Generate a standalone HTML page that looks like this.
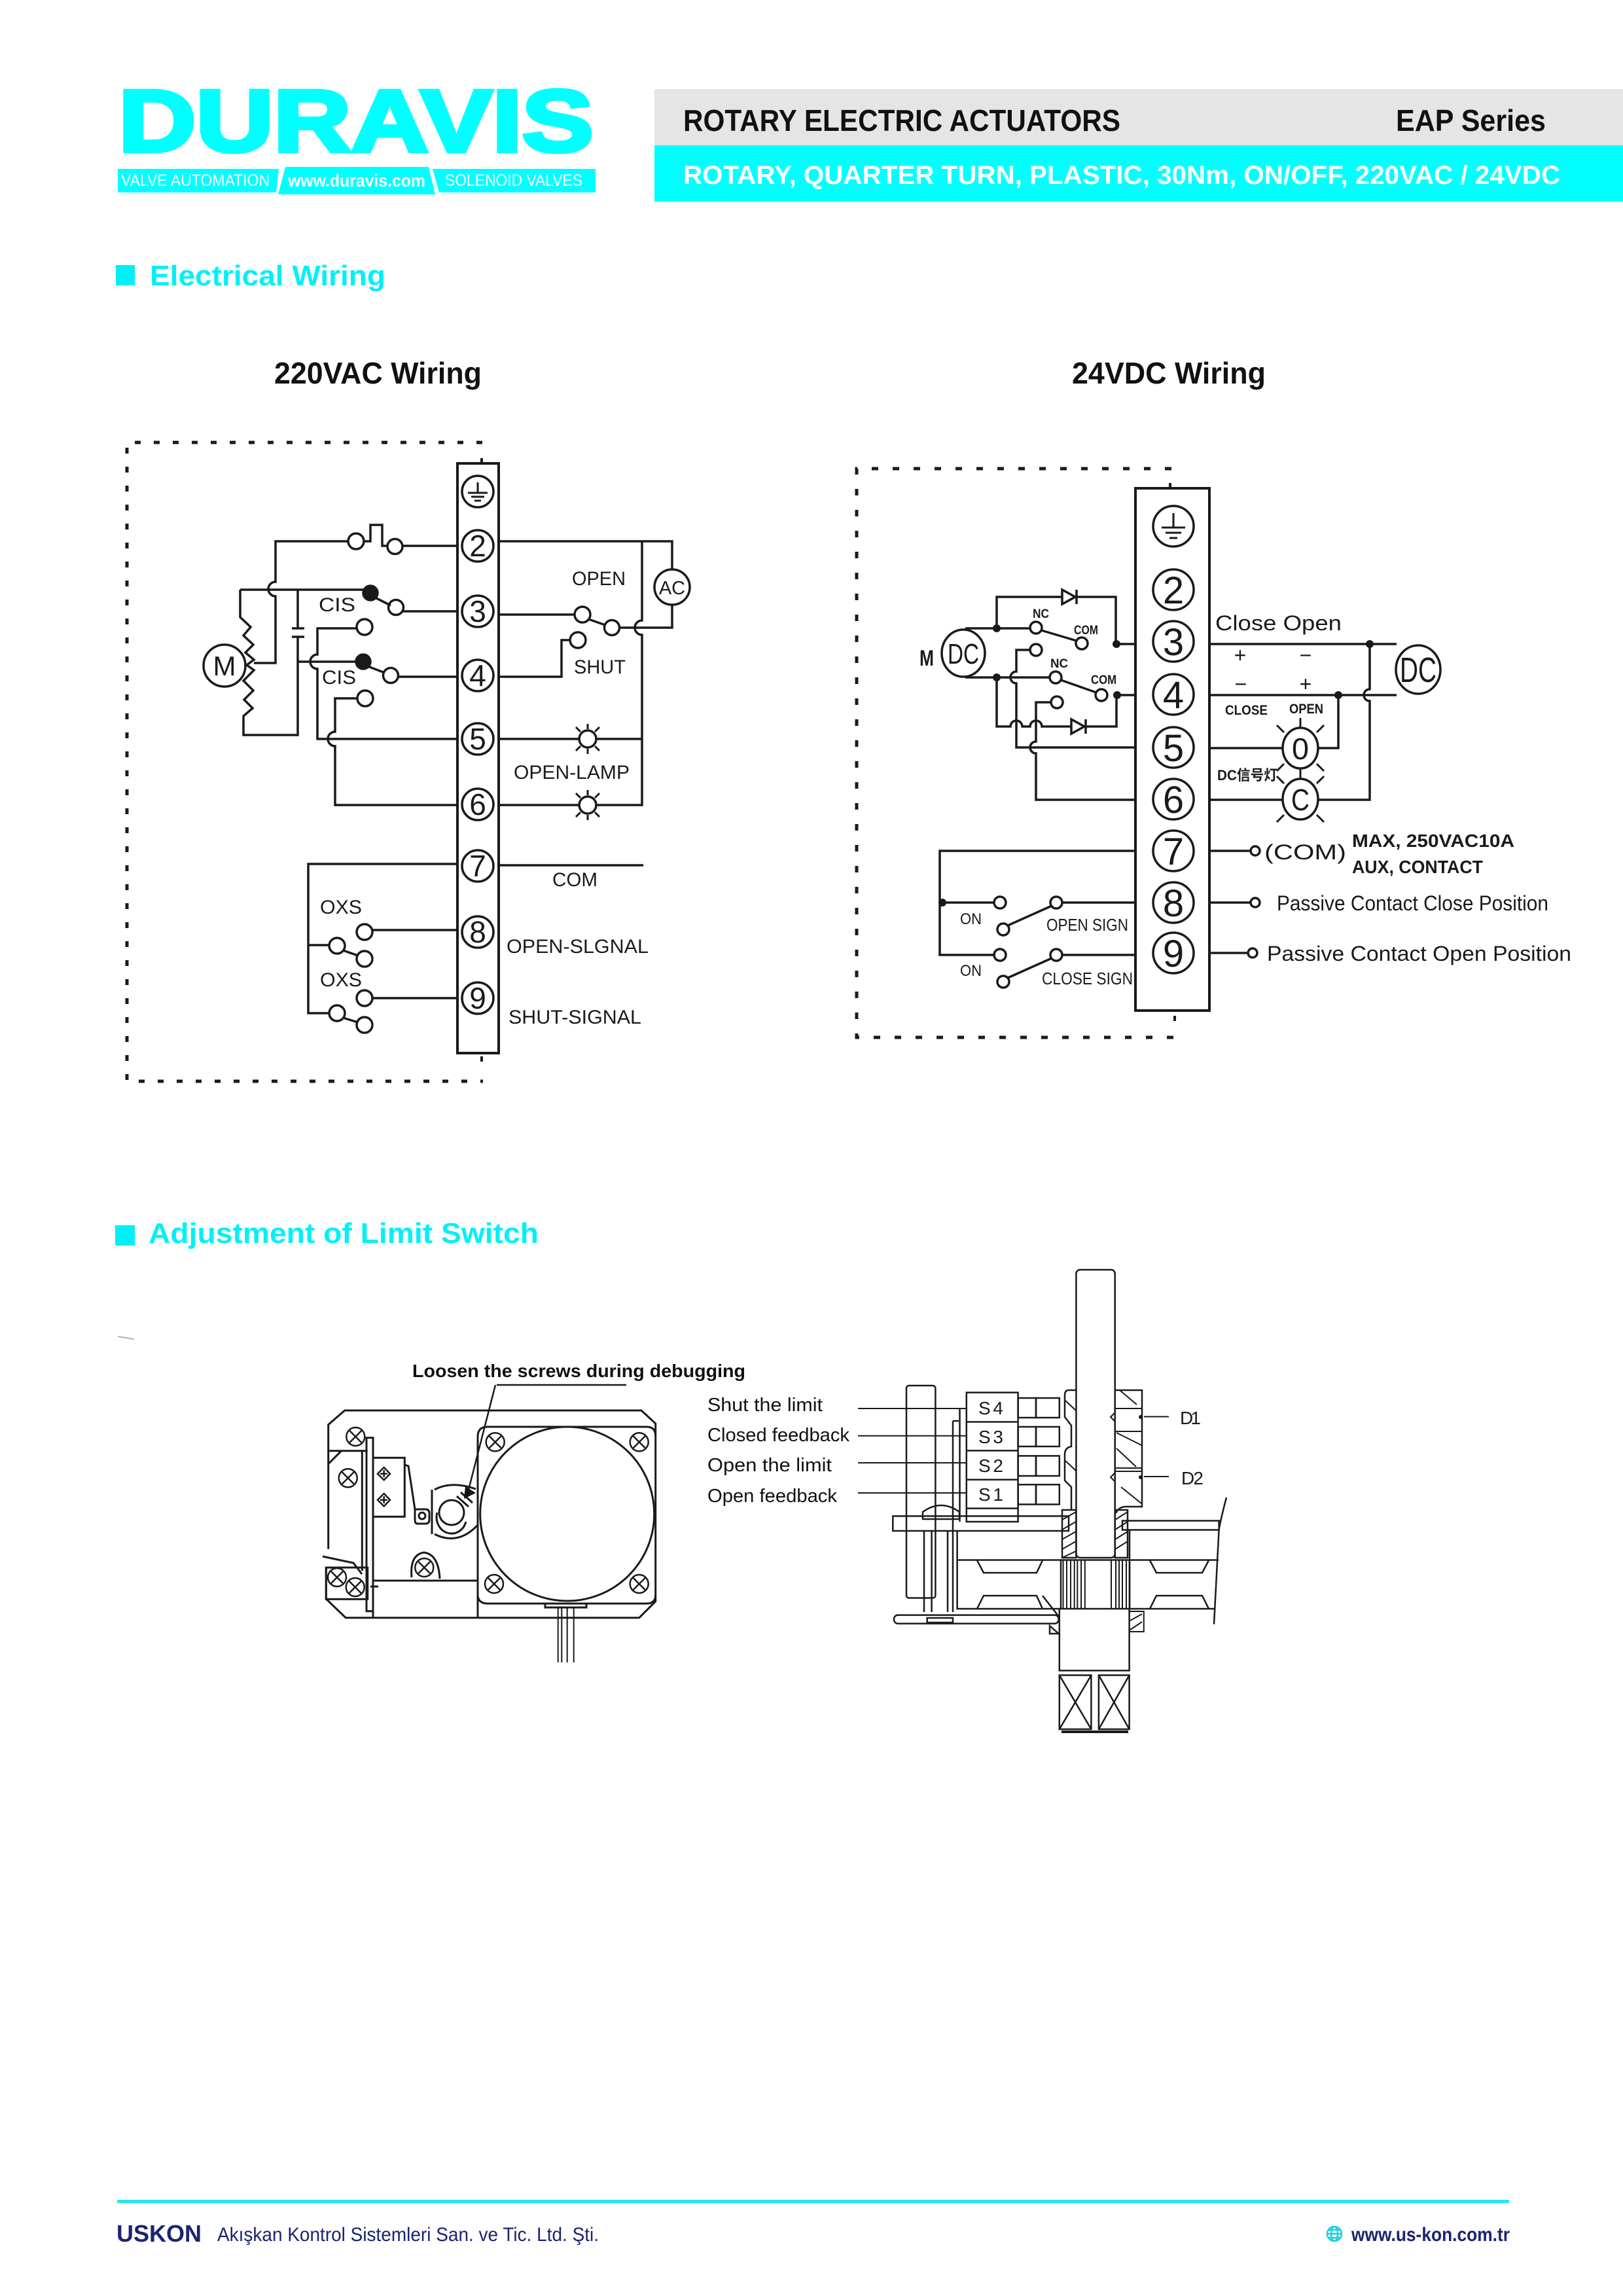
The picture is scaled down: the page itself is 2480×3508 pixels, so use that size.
<!DOCTYPE html>
<html><head><meta charset="utf-8"><title>EAP Series - Electrical Wiring</title>
<style>
html,body{margin:0;padding:0;background:#fff;width:2480px;height:3508px;overflow:hidden;}
svg{display:block;}
text{font-family:"Liberation Sans","Noto Sans CJK SC",sans-serif;}
</style></head><body>
<svg xmlns="http://www.w3.org/2000/svg" width="2480" height="3508" viewBox="0 0 2480 3508">
<rect width="2480" height="3508" fill="#fff"/>

<!-- ===== HEADER ===== -->
<rect x="1000" y="136" width="1480" height="86" fill="#e5e5e5"/>
<rect x="1000" y="222" width="1480" height="86" fill="#00ffff"/>
<text x="1044" y="200" font-size="46" font-weight="bold" fill="#111" textLength="668" lengthAdjust="spacingAndGlyphs">ROTARY ELECTRIC ACTUATORS</text>
<text x="2133" y="200" font-size="46" font-weight="bold" fill="#111" textLength="229" lengthAdjust="spacingAndGlyphs">EAP Series</text>
<text x="1044" y="281" font-size="40" font-weight="bold" fill="#fff" textLength="1340" lengthAdjust="spacingAndGlyphs">ROTARY, QUARTER TURN, PLASTIC, 30Nm, ON/OFF, 220VAC / 24VDC</text>

<!-- logo -->
<text x="181" y="231" font-size="134" font-weight="bold" fill="#00ffff" stroke="#00ffff" stroke-width="6" textLength="726" lengthAdjust="spacingAndGlyphs">DURAVIS</text>
<polygon points="180,258 426,258 422,294 180,294" fill="#00ffff"/>
<polygon points="436,255 655,255 665,297 425,297" fill="#00ffff"/>
<polygon points="661,258 910,258 910,294 671,294" fill="#00ffff"/>
<text x="185" y="284" font-size="25" fill="#fff" textLength="227" lengthAdjust="spacingAndGlyphs">VALVE AUTOMATION</text>
<text x="440" y="285" font-size="27" font-weight="bold" fill="#fff" textLength="210" lengthAdjust="spacingAndGlyphs">www.duravis.com</text>
<text x="680" y="284" font-size="25" fill="#fff" textLength="210" lengthAdjust="spacingAndGlyphs">SOLENOID VALVES</text>

<!-- section 1 -->
<rect x="177" y="405" width="29" height="31" fill="#00f0f8"/>
<text x="229" y="436" font-size="44" font-weight="bold" fill="#00f0f8" textLength="360" lengthAdjust="spacingAndGlyphs">Electrical Wiring</text>
<text x="419" y="586" font-size="46" font-weight="bold" fill="#111" textLength="317" lengthAdjust="spacingAndGlyphs">220VAC Wiring</text>
<text x="1638" y="586" font-size="46" font-weight="bold" fill="#111" textLength="296" lengthAdjust="spacingAndGlyphs">24VDC Wiring</text>

<!-- ===== 220VAC DIAGRAM ===== -->
<g fill="none" stroke="#1a1a1a" stroke-width="3.5">
  <path d="M737,676 H194 V1652 H738" stroke-width="5" stroke-dasharray="9 20"/>
  <path d="M736,700 V707 M736,1614 V1622" stroke-width="4"/>
  <rect x="699" y="708" width="63" height="901" stroke-width="4"/>
  <circle cx="730" cy="751" r="24"/>
  <circle cx="730" cy="834" r="24"/>
  <circle cx="730" cy="934" r="24"/>
  <circle cx="730" cy="1032" r="24"/>
  <circle cx="730" cy="1129" r="24"/>
  <circle cx="730" cy="1229" r="24"/>
  <circle cx="730" cy="1323" r="24"/>
  <circle cx="730" cy="1424" r="24"/>
  <circle cx="730" cy="1525" r="24"/>
  <path d="M730,737 V753 M715,753 H745 M720,759 H740 M725,765 H735" stroke-width="3"/>

  <!-- left side -->
  <path d="M699,834 H615"/>
  <circle cx="603.5" cy="835" r="11.5"/>
  <path d="M556,827 H566 V802 H584 V834 H592"/>
  <circle cx="544" cy="827" r="12"/>
  <path d="M532,827 H421 V889 A11,11 0 0 0 421,911 V1013 H388"/>
  <circle cx="343" cy="1017" r="32"/>
  <path d="M367,901 V943 L383,958 L372,971 L387,985 L375,997 L388,1008 L377,1016 L388,1024 L372,1040 L387,1055 L373,1069 L386,1082 L372,1094 V1123 H455 V973"/>
  <path d="M367,901 H556"/>
  <path d="M455,901 V960 M446,960 H465 M446,973 H465"/>
  <path d="M455,1011 H545"/>
  <circle cx="566" cy="906" r="11" fill="#1a1a1a"/>
  <path d="M573,913 L597,925"/>
  <circle cx="605" cy="928" r="11.5"/>
  <path d="M616,934 H699"/>
  <circle cx="557" cy="958" r="12"/>
  <path d="M545,960 H485 V1000 A11,11 0 0 0 485,1022 V1129 H699"/>
  <circle cx="555" cy="1011" r="11" fill="#1a1a1a"/>
  <path d="M562,1018 L588,1028"/>
  <circle cx="597" cy="1032" r="11.5"/>
  <path d="M608,1034 H699"/>
  <circle cx="558" cy="1067" r="12"/>
  <path d="M546,1067 H512 V1118 A11,11 0 0 0 512,1140 V1230 H699"/>

  <!-- right side -->
  <path d="M762,827 H1027 V870"/>
  <circle cx="1027" cy="897" r="27"/>
  <path d="M1027,924 V959 H946"/>
  <path d="M981,827 V948 A11,11 0 0 0 981,970 V1230 H911"/>
  <path d="M762,939 H878"/>
  <circle cx="890" cy="939" r="12"/>
  <path d="M899,946 L925,955"/>
  <circle cx="935" cy="959" r="11.5"/>
  <circle cx="883" cy="978" r="12"/>
  <path d="M871,978 H858 V1034 H762"/>
  <path d="M762,1129 H885 M911,1129 H981"/>
  <circle cx="898" cy="1129" r="13"/>
  <path d="M898,1114 V1106 M898,1144 V1152 M887,1118 L880,1111 M909,1118 L916,1111 M887,1140 L880,1147 M909,1140 L916,1147" stroke-width="3"/>
  <path d="M762,1230 H885"/>
  <circle cx="898" cy="1230" r="13"/>
  <path d="M898,1215 V1207 M898,1245 V1253 M887,1219 L880,1212 M909,1219 L916,1212 M887,1241 L880,1248 M909,1241 L916,1248" stroke-width="3"/>
  <path d="M762,1322 H983"/>

  <!-- bottom left -->
  <path d="M699,1320 H471 V1548 H503 M471,1444 H503"/>
  <circle cx="515" cy="1445" r="12"/>
  <circle cx="557" cy="1465" r="12"/>
  <circle cx="557" cy="1424" r="12"/>
  <path d="M524,1452 L547,1460"/>
  <path d="M569,1421 H699"/>
  <circle cx="515" cy="1548" r="12"/>
  <circle cx="557" cy="1566" r="12"/>
  <circle cx="557" cy="1525" r="12"/>
  <path d="M524,1555 L547,1562"/>
  <path d="M569,1525 H699"/>
</g>
<g fill="#1a1a1a" stroke="none" font-size="46" text-anchor="middle">
  <text x="730" y="850">2</text>
  <text x="730" y="950">3</text>
  <text x="730" y="1048">4</text>
  <text x="730" y="1145">5</text>
  <text x="730" y="1245">6</text>
  <text x="730" y="1339">7</text>
  <text x="730" y="1440">8</text>
  <text x="730" y="1541">9</text>
  <text x="343" y="1032" font-size="42">M</text>
  <text x="1027" y="908" font-size="29">AC</text>
</g>
<g fill="#1a1a1a" stroke="none" font-size="30">
  <text x="487" y="934" textLength="56" lengthAdjust="spacingAndGlyphs">CIS</text>
  <text x="492" y="1045" textLength="52" lengthAdjust="spacingAndGlyphs">CIS</text>
  <text x="874" y="894" textLength="82" lengthAdjust="spacingAndGlyphs">OPEN</text>
  <text x="877" y="1029" textLength="79" lengthAdjust="spacingAndGlyphs">SHUT</text>
  <text x="785" y="1190" textLength="177" lengthAdjust="spacingAndGlyphs">OPEN-LAMP</text>
  <text x="844" y="1354" textLength="69" lengthAdjust="spacingAndGlyphs">COM</text>
  <text x="774" y="1456" textLength="217" lengthAdjust="spacingAndGlyphs">OPEN-SLGNAL</text>
  <text x="777" y="1564" textLength="203" lengthAdjust="spacingAndGlyphs">SHUT-SIGNAL</text>
  <text x="489" y="1396" textLength="64" lengthAdjust="spacingAndGlyphs">OXS</text>
  <text x="489" y="1507" textLength="64" lengthAdjust="spacingAndGlyphs">OXS</text>
</g>

<!-- ===== 24VDC DIAGRAM ===== -->
<g fill="none" stroke="#1a1a1a" stroke-width="3.5">
  <path d="M1790,716 H1309 V1585 H1795" stroke-width="5" stroke-dasharray="10 22"/>
  <path d="M1788,738 V745 M1795,1552 V1560" stroke-width="4"/>
  <rect x="1735" y="746" width="113" height="798" stroke-width="4"/>
  <circle cx="1793" cy="804" r="31"/>
  <circle cx="1793" cy="901" r="31"/>
  <circle cx="1793" cy="980" r="31"/>
  <circle cx="1793" cy="1061" r="31"/>
  <circle cx="1793" cy="1142" r="31"/>
  <circle cx="1793" cy="1221" r="31"/>
  <circle cx="1793" cy="1300" r="31"/>
  <circle cx="1793" cy="1379" r="31"/>
  <circle cx="1793" cy="1456" r="31"/>
  <path d="M1793,784 V806 M1775,806 H1811 M1781,814 H1805 M1787,822 H1799" stroke-width="3"/>

  <!-- motor side -->
  <ellipse cx="1472" cy="998" rx="33" ry="36"/>
  <path d="M1475,960 H1574"/>
  <path d="M1523,959 V912 H1623 M1645,912 H1705 V984 H1735"/>
  <path d="M1623,901 V923 L1643,912 Z M1645,901 V923"/>
  <circle cx="1583" cy="959" r="9"/>
  <path d="M1591,963 L1645,979"/>
  <circle cx="1653" cy="983" r="9"/>
  <circle cx="1583" cy="993" r="9"/>
  <path d="M1574,993 H1553 V1026 A9,9 0 0 0 1553,1044 V1142 H1735"/>
  <path d="M1475,1035 H1604"/>
  <path d="M1523,1035 V1110 H1544 A9,9 0 0 1 1562,1110 H1574 A9,9 0 0 1 1592,1110 H1637 M1659,1110 H1706 V1062 H1735"/>
  <path d="M1637,1099 V1121 L1657,1110 Z M1659,1099 V1121"/>
  <circle cx="1613" cy="1035" r="9"/>
  <path d="M1621,1039 L1675,1058"/>
  <circle cx="1683" cy="1062" r="9"/>
  <circle cx="1615" cy="1073" r="9"/>
  <path d="M1606,1073 H1583 V1133 A9,9 0 0 0 1583,1151 V1222 H1735"/>

  <!-- right side -->
  <path d="M1848,984 H2134"/>
  <path d="M1848,1062 H2134"/>
  <ellipse cx="2167" cy="1023" rx="34" ry="37"/>
  <path d="M2093,984 V1053 A9,9 0 0 0 2093,1071 V1222 H2014"/>
  <path d="M2045,1062 V1143 H2014"/>
  <path d="M1848,1143 H1960 M1848,1222 H1960"/>
  <ellipse cx="1987" cy="1143" rx="27" ry="31"/>
  <ellipse cx="1987" cy="1221" rx="27" ry="31"/>
  <path d="M1987,1097 V1112 M1987,1174 V1190" stroke-width="3"/>
  <path d="M1962,1119 L1951,1108 M2012,1119 L2023,1108 M1962,1167 L1951,1178 M2012,1167 L2023,1178 M1962,1197 L1951,1186 M2012,1197 L2023,1186 M1962,1245 L1951,1256 M2012,1245 L2023,1256" stroke-width="3"/>
  <path d="M1848,1300 H1911"/>
  <circle cx="1918" cy="1300" r="7"/>
  <path d="M1848,1379 H1911"/>
  <circle cx="1918" cy="1379" r="7"/>
  <path d="M1848,1456 H1907"/>
  <circle cx="1914" cy="1456" r="7"/>

  <!-- bottom left -->
  <path d="M1735,1300 H1436 V1459 H1519 M1436,1379 H1519"/>
  <circle cx="1528" cy="1379" r="9"/>
  <circle cx="1533" cy="1420" r="9"/>
  <circle cx="1614" cy="1379" r="9"/>
  <path d="M1540,1414 L1607,1384 M1623,1379 H1735"/>
  <circle cx="1528" cy="1459" r="9"/>
  <circle cx="1533" cy="1500" r="9"/>
  <circle cx="1614" cy="1459" r="9"/>
  <path d="M1540,1494 L1607,1464 M1623,1459 H1735"/>
</g>
<g fill="#1a1a1a" stroke="none">
  <circle cx="1523" cy="960" r="6"/>
  <circle cx="1706" cy="984" r="6"/>
  <circle cx="1523" cy="1035" r="6"/>
  <circle cx="1707" cy="1062" r="6"/>
  <circle cx="2093" cy="984" r="6"/>
  <circle cx="2045" cy="1062" r="6"/>
  <circle cx="1440" cy="1379" r="6"/>
</g>
<g fill="#1a1a1a" stroke="none" font-size="58" text-anchor="middle">
  <text x="1793" y="922">2</text>
  <text x="1793" y="1001">3</text>
  <text x="1793" y="1082">4</text>
  <text x="1793" y="1163">5</text>
  <text x="1793" y="1242">6</text>
  <text x="1793" y="1321">7</text>
  <text x="1793" y="1400">8</text>
  <text x="1793" y="1477">9</text>
  <text x="1472" y="1014" font-size="44" textLength="48" lengthAdjust="spacingAndGlyphs">DC</text>
  <text x="2167" y="1042" font-size="54" textLength="56" lengthAdjust="spacingAndGlyphs">DC</text>
  <text x="1987" y="1160" font-size="46" textLength="26" lengthAdjust="spacingAndGlyphs">0</text>
  <text x="1987" y="1238" font-size="46" textLength="28" lengthAdjust="spacingAndGlyphs">C</text>
</g>
<g fill="#1a1a1a" stroke="none">
  <text x="1405" y="1017" font-size="34" font-weight="bold" textLength="22" lengthAdjust="spacingAndGlyphs">M</text>
  <text x="1578" y="944" font-size="19" font-weight="bold" textLength="25" lengthAdjust="spacingAndGlyphs">NC</text>
  <text x="1641" y="969" font-size="19" font-weight="bold" textLength="37" lengthAdjust="spacingAndGlyphs">COM</text>
  <text x="1605" y="1020" font-size="19" font-weight="bold" textLength="27" lengthAdjust="spacingAndGlyphs">NC</text>
  <text x="1667" y="1045" font-size="19" font-weight="bold" textLength="39" lengthAdjust="spacingAndGlyphs">COM</text>
  <text x="1857" y="963" font-size="32" textLength="193" lengthAdjust="spacingAndGlyphs">Close Open</text>
  <text x="1895" y="1012" font-size="32" text-anchor="middle">+</text>
  <text x="1995" y="1012" font-size="32" text-anchor="middle">−</text>
  <text x="1896" y="1056" font-size="32" text-anchor="middle">−</text>
  <text x="1995" y="1056" font-size="32" text-anchor="middle">+</text>
  <text x="1872" y="1092" font-size="21" font-weight="bold" textLength="65" lengthAdjust="spacingAndGlyphs">CLOSE</text>
  <text x="1970" y="1090" font-size="21" font-weight="bold" textLength="52" lengthAdjust="spacingAndGlyphs">OPEN</text>
  <text x="1860" y="1192" font-size="22" font-weight="bold" textLength="92" lengthAdjust="spacingAndGlyphs">DC信号灯</text>
  <text x="1932" y="1313" font-size="32" textLength="125" lengthAdjust="spacingAndGlyphs">(COM)</text>
  <text x="2066" y="1294" font-size="28" font-weight="bold" textLength="248" lengthAdjust="spacingAndGlyphs">MAX, 250VAC10A</text>
  <text x="2066" y="1334" font-size="28" font-weight="bold" textLength="200" lengthAdjust="spacingAndGlyphs">AUX, CONTACT</text>
  <text x="1951" y="1391" font-size="32" textLength="415" lengthAdjust="spacingAndGlyphs">Passive Contact Close Position</text>
  <text x="1936" y="1468" font-size="32" textLength="465" lengthAdjust="spacingAndGlyphs">Passive Contact Open Position</text>
  <text x="1467" y="1412" font-size="24" textLength="33" lengthAdjust="spacingAndGlyphs">ON</text>
  <text x="1467" y="1491" font-size="24" textLength="33" lengthAdjust="spacingAndGlyphs">ON</text>
  <text x="1599" y="1422" font-size="26" textLength="125" lengthAdjust="spacingAndGlyphs">OPEN SIGN</text>
  <text x="1592" y="1504" font-size="26" textLength="139" lengthAdjust="spacingAndGlyphs">CLOSE SIGN</text>
</g>

<!-- ===== SECTION 2 ===== -->
<rect x="176" y="1872" width="30" height="31" fill="#00f0f8"/>
<text x="227" y="1899" font-size="44" font-weight="bold" fill="#00f0f8" textLength="596" lengthAdjust="spacingAndGlyphs">Adjustment of Limit Switch</text>
<path d="M180,2042 L205,2046" stroke="#b5b5b5" stroke-width="2"/>

<text x="630" y="2104" font-size="28" font-weight="bold" fill="#111" textLength="509" lengthAdjust="spacingAndGlyphs">Loosen the screws during debugging</text>
<g fill="#111" font-size="29">
  <text x="1081" y="2156" textLength="176" lengthAdjust="spacingAndGlyphs">Shut the limit</text>
  <text x="1081" y="2202" textLength="217" lengthAdjust="spacingAndGlyphs">Closed feedback</text>
  <text x="1081" y="2248" textLength="190" lengthAdjust="spacingAndGlyphs">Open the limit</text>
  <text x="1081" y="2295" textLength="198" lengthAdjust="spacingAndGlyphs">Open feedback</text>
</g>

<!-- left actuator drawing -->
<g fill="none" stroke="#1a1a1a" stroke-width="3">
  <path d="M759,2116 H957 M757,2116 L716,2276" stroke-width="2.5"/>
  <path d="M501.7,2366.7 V2176.7 L526.7,2155 H980 L1001.7,2175 V2446.7 L976.7,2471.7 H528.3 L498.3,2443 V2395"/>
  <path d="M493,2378 L540,2388 L553,2405"/>
  <rect x="498.3" y="2395" width="63.4" height="48.3"/>
  <path d="M501.7,2216.7 H561.7 M501.7,2236.7 L521.7,2216.7 M553.3,2216.7 V2400"/>
  <rect x="560" y="2196.7" width="10" height="265"/>
  <path d="M570,2461.7 V2471.7 M566,2424 H578"/>
  <rect x="570" y="2227.3" width="48.3" height="90"/>
  <path d="M586.7,2242 L596,2251.7 L586.7,2261.4 L577,2251.7 Z M581,2251.7 H592 M586.7,2246 V2257" stroke-width="2.5"/>
  <path d="M586.7,2282 L596,2291.7 L586.7,2301.4 L577,2291.7 Z M581,2291.7 H592 M586.7,2286 V2297" stroke-width="2.5"/>
  <path d="M618.3,2238 L624,2240 L634,2306"/>
  <path d="M634,2306 H650 Q656,2306 656,2312 V2322 Q656,2328 650,2328 H638 Q634,2328 634,2322 Z"/>
  <circle cx="645" cy="2316" r="5"/>
  <path d="M660,2276 V2344 M664,2276 Q690,2262 727,2275 M664,2344 Q700,2362 730,2330"/>
  <circle cx="690" cy="2311" r="19"/>
  <path d="M668,2311 A22,24 0 0 0 712,2325"/>
  <path d="M704,2280 L722,2296 M698,2286 L716,2302"/>
  <path d="M629,2410 Q626,2375 648,2372 Q670,2375 672,2412"/>
  <path d="M570,2415 H730"/>
  <path d="M730,2471.7 V2195 Q730,2180 745,2180 H988 Q1001.7,2180 1001.7,2194 M1001.7,2437 Q1001.7,2450 988,2450 H745 Q730,2450 730,2436"/>
  <circle cx="866.7" cy="2313" r="133"/>
  <rect x="833" y="2450" width="63" height="6"/>
  <path d="M852.7,2456 V2540 M858.3,2456 V2540 M866.7,2456 V2540 M876.7,2456 V2540" stroke-width="2"/>
  <g stroke-width="2.5">
    <circle cx="756.7" cy="2203.3" r="14"/><path d="M747.7,2194.3 L765.7,2212.3 M765.7,2194.3 L747.7,2212.3"/>
    <circle cx="976.7" cy="2203.3" r="14"/><path d="M967.7,2194.3 L985.7,2212.3 M985.7,2194.3 L967.7,2212.3"/>
    <circle cx="755" cy="2420" r="14"/><path d="M746,2411 L764,2429 M764,2411 L746,2429"/>
    <circle cx="976.7" cy="2420" r="14"/><path d="M967.7,2411 L985.7,2429 M985.7,2411 L967.7,2429"/>
    <circle cx="543.3" cy="2195" r="14"/><path d="M534.3,2186 L552.3,2204 M552.3,2186 L534.3,2204"/>
    <circle cx="531.7" cy="2258.3" r="14"/><path d="M522.7,2249.3 L540.7,2267.3 M540.7,2249.3 L522.7,2267.3"/>
    <circle cx="515" cy="2410" r="14"/><path d="M506,2401 L524,2419 M524,2401 L506,2419"/>
    <circle cx="542.7" cy="2425" r="14"/><path d="M533.7,2416 L551.7,2434 M551.7,2416 L533.7,2434"/>
    <circle cx="648.3" cy="2395" r="14"/><path d="M639.3,2386 L657.3,2404 M657.3,2386 L639.3,2404"/>
  </g>
</g>
<polygon points="709,2290 711,2271 727,2281" fill="#111"/>

<!-- right mechanism drawing -->
<g fill="none" stroke="#1a1a1a" stroke-width="2.5">
  <path d="M1311,2152 H1477 M1311,2193.7 H1477 M1311,2235 H1477 M1311,2281 H1477" stroke-width="2"/>
  <rect x="1644.4" y="1940" width="59.3" height="440" rx="6"/>
  <rect x="1385" y="2117" width="44.4" height="324.5" rx="4"/>
  <rect x="1476.8" y="2127.6" width="78.8" height="197.4"/>
  <path d="M1476.8,2172.5 H1555.6 M1476.8,2216.4 H1555.6 M1476.8,2260.7 H1555.6 M1476.8,2304.6 H1555.6"/>
  <rect x="1555.6" y="2136" width="27.4" height="30"/><rect x="1583" y="2136" width="35.8" height="30"/>
  <rect x="1555.6" y="2180" width="27.4" height="30"/><rect x="1583" y="2180" width="35.8" height="30"/>
  <rect x="1555.6" y="2224.4" width="27.4" height="30.6"/><rect x="1583" y="2224.4" width="35.8" height="30.6"/>
  <rect x="1555.6" y="2268.3" width="27.4" height="30.2"/><rect x="1583" y="2268.3" width="35.8" height="30.2"/>
  <path d="M1466.5,2152 V2325 M1456,2171 V2463 M1456,2171 H1465"/>
  <path d="M1410,2321 V2310 Q1438,2290 1466,2310 V2321 Z"/>
  <rect x="1364.3" y="2316.4" width="268.7" height="22.6"/>
  <path d="M1412,2339 V2463 M1423.6,2339 V2463 M1448,2339 V2463"/>
  <path d="M1462.6,2339 V2458 H1618.8 M1462.6,2383.5 H1621"/>
  <path d="M1493,2384 L1503,2403 H1584 L1593,2384 M1493,2458 L1503,2438 H1584 L1593,2458"/>
  <path d="M1593,2438 L1618,2470"/>
  <rect x="1715" y="2323.5" width="147.6" height="14"/>
  <path d="M1726,2337.6 V2458 M1726,2383.5 H1862 M1726,2458 H1855"/>
  <path d="M1757,2384 L1767,2403 H1837 L1847,2384 M1757,2458 L1767,2438 H1837 L1847,2458"/>
  <path d="M1874,2288 Q1866,2318 1862.6,2337 L1855,2481.6"/>
  <path d="M1624.5,2383.5 V2458 M1630,2383.5 V2458 M1636,2383.5 V2458 M1641.7,2383.5 V2458 M1646.3,2383.5 V2458 M1652,2383.5 V2458 M1657.8,2383.5 V2458 M1698,2383.5 V2458 M1705,2383.5 V2458 M1710,2383.5 V2458 M1715,2383.5 V2458 M1721,2383.5 V2458" stroke-width="2"/>
  <path d="M1621,2383.5 H1726 M1621,2383.5 V2458 M1726,2383.5 V2458"/>
  <path d="M1644.4,2124 H1633 Q1627,2124 1627,2132 V2165 L1637,2178 V2210 Q1627,2212 1627,2222 V2262 L1637,2272 V2307"/>
  <path d="M1628,2140 L1644,2155 M1628,2232 L1644,2247" stroke-width="2"/>
  <rect x="1623" y="2307" width="21.4" height="73"/>
  <path d="M1623,2322 L1644,2310 M1623,2337 L1644,2325 M1623,2352 L1644,2340 M1623,2367 L1644,2355 M1623,2380 L1644,2370" stroke-width="2"/>
  <path d="M1703.7,2124 H1745 V2302 H1720 Q1710,2302 1705,2312"/>
  <path d="M1703.7,2152 H1745 M1703.7,2187 H1745 M1703.7,2243 H1745 M1703.7,2248 H1745" stroke-width="2"/>
  <path d="M1711,2124 L1737,2146 M1706,2189 L1744,2208 M1706,2213 L1736,2241 M1713,2272 L1744,2297" stroke-width="2"/>
  <path d="M1704,2158 L1697,2165 L1704,2172 M1704,2250 L1697,2257 L1704,2264" stroke-width="2"/>
  <rect x="1703.7" y="2307" width="19.3" height="73"/>
  <path d="M1704,2322 L1723,2310 M1704,2337 L1723,2325 M1704,2352 L1723,2340 M1704,2367 L1723,2355" stroke-width="2"/>
  <path d="M1748,2164.5 H1786 M1748,2256 H1786" stroke-width="2"/>
  <rect x="1366" y="2467.6" width="251.6" height="13" rx="6"/>
  <rect x="1416.7" y="2472" width="39.3" height="7"/>
  <rect x="1618.8" y="2458" width="106.8" height="94.4"/>
  <path d="M1725.6,2462 H1747.8 V2493 H1725.6 M1727,2476 L1745,2466 M1727,2490 L1745,2478" stroke-width="2"/>
  <path d="M1604,2484 L1617.6,2496 H1604 Z"/>
  <rect x="1618.8" y="2559.5" width="48.6" height="82.5"/>
  <rect x="1678.9" y="2559.5" width="46.7" height="82.5"/>
  <path d="M1618.8,2559.5 L1667.4,2642 M1667.4,2559.5 L1618.8,2642 M1678.9,2559.5 L1725.6,2642 M1725.6,2559.5 L1678.9,2642"/>
  <path d="M1622,2646 H1724" stroke-width="4"/>
</g>
<g fill="#1a1a1a" stroke="none" font-size="28">
  <circle cx="1743" cy="2165" r="3"/>
  <circle cx="1743" cy="2257" r="3"/>
  <text x="1495" y="2161" textLength="38" lengthAdjust="spacing">S4</text>
  <text x="1495" y="2205" textLength="38" lengthAdjust="spacing">S3</text>
  <text x="1495" y="2249" textLength="38" lengthAdjust="spacing">S2</text>
  <text x="1495" y="2293" textLength="38" lengthAdjust="spacing">S1</text>
  <text x="1803" y="2176" textLength="32" lengthAdjust="spacing">D1</text>
  <text x="1805" y="2268" textLength="34" lengthAdjust="spacing">D2</text>
</g>

<!-- ===== FOOTER ===== -->
<rect x="179" y="3361" width="2127" height="5" fill="#22e8ec"/>
<text x="178" y="3425" font-size="36" font-weight="bold" fill="#1a2470" textLength="130" lengthAdjust="spacingAndGlyphs">USKON</text>
<text x="332" y="3424" font-size="30" fill="#1a2470" textLength="583" lengthAdjust="spacingAndGlyphs">Akışkan Kontrol Sistemleri San. ve Tic. Ltd. Şti.</text>
<g fill="none" stroke="#1ad0e0" stroke-width="2.5">
  <circle cx="2039" cy="3413" r="11"/>
  <ellipse cx="2039" cy="3413" rx="5" ry="11"/>
  <path d="M2028,3413 H2050 M2030,3407 H2048 M2030,3419 H2048"/>
</g>
<text x="2065" y="3424" font-size="30" font-weight="bold" fill="#1a2470" textLength="242" lengthAdjust="spacingAndGlyphs">www.us-kon.com.tr</text>
</svg>
</body></html>
